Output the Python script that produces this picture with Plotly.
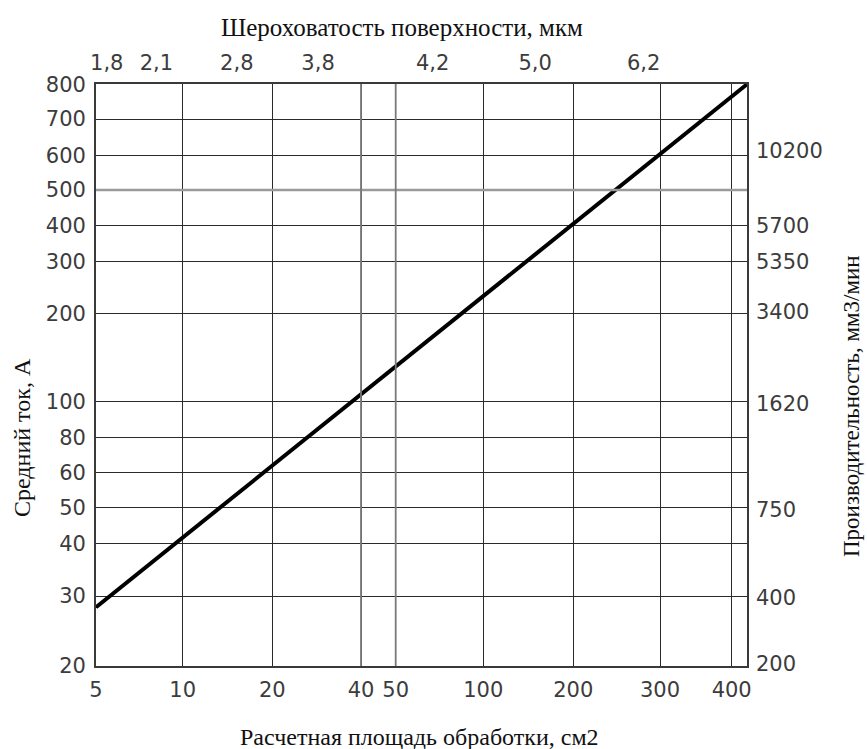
import numpy as np
import plotly.graph_objects as go

# ---- data ----
area_ticks = [5, 10, 20, 40, 50, 100, 200, 300, 400]          # Расчетная площадь, см2
current_ticks = [20, 30, 40, 50, 60, 80, 100, 200, 300, 400, 500, 600, 700, 800]  # Средний ток, А
rough_labels = ["1,8", "2,1", "2,8", "3,8", "4,2", "5,0", "6,2"]  # Шероховатость, мкм
rough_area = [5.45, 8.1, 15.2, 28.6, 67, 149, 278]
prod_labels = ["200", "400", "750", "1620", "3400", "5350", "5700", "10200"]  # мм3/мин
prod_current = [20.2, 29.8, 49.3, 99, 203, 300, 400, 613]
line_area = [5, 420]
line_current = [28.1, 800]

# ---- nomogram scale (nonuniform spacing of the printed axes) ----
x_scale_val = area_ticks + [420]
x_scale_pos = [0, 86.7, 176.3, 265, 299.7, 387.3, 477.3, 564, 635.7, 651]
y_scale_val = current_ticks
y_scale_pos = [0, 69.5, 121.8, 158.2, 193.2, 227.8, 263.8, 352.2, 404.2,
               440.2, 475.5, 510.2, 546.5, 581.2]


def sx(v):
    return np.interp(np.log10(v), np.log10(x_scale_val), x_scale_pos)


def sy(v):
    return np.interp(np.log10(v), np.log10(y_scale_val), y_scale_pos)


TICKFONT = dict(family="DejaVu Sans", size=21, color="#3c3c3c")
TITLEFONT = dict(family="Liberation Serif", size=24, color="#111")

fig = go.Figure()
fig.add_trace(go.Scatter(x=sx(line_area), y=sy(line_current), mode="lines",
                         line=dict(color="black", width=4), hoverinfo="skip",
                         showlegend=False))
fig.add_trace(go.Scatter(x=sx(rough_area), y=[0] * len(rough_area), xaxis="x2",
                         mode="markers", marker=dict(opacity=0), showlegend=False,
                         hoverinfo="skip"))
fig.add_trace(go.Scatter(x=[0] * len(prod_current), y=sy(prod_current), yaxis="y2",
                         mode="markers", marker=dict(opacity=0), showlegend=False,
                         hoverinfo="skip"))

# lighter highlighted grid lines
for v in [500]:
    fig.add_shape(type="line", xref="paper", yref="y", x0=0, x1=1, y0=sy(v), y1=sy(v),
                  line=dict(color="#9a9a9a", width=2.5), layer="above")
for v in [40, 50]:
    fig.add_shape(type="line", xref="x", yref="paper", x0=sx(v), x1=sx(v), y0=0, y1=1,
                  line=dict(color="#7a7a7a", width=1.8), layer="above")

W, H = 867, 749
L, R, T, B = 96, 120, 84, 83
pw, ph = W - L - R, H - T - B


def px(xp):
    return (xp - L) / pw


def py(yp):
    return (H - B - yp) / ph


fig.update_layout(
    width=W, height=H,
    margin=dict(l=L, r=R, t=T, b=B),
    paper_bgcolor="white", plot_bgcolor="white",
    showlegend=False,
    xaxis=dict(range=[0, 651], tickvals=sx(area_ticks), ticktext=[str(v) for v in area_ticks],
               showgrid=True, gridcolor="#2a2a2a", gridwidth=1.3, zeroline=False,
               showline=True, linecolor="#3a3a3a", linewidth=1.8, mirror=True,
               ticks="", tickfont=TICKFONT, ticklabelstandoff=4),
    xaxis2=dict(range=[0, 651], overlaying="x", side="top", tickvals=sx(rough_area),
                ticktext=rough_labels, showgrid=False, zeroline=False, ticks="",
                tickfont=TICKFONT, ticklabelstandoff=9),
    yaxis=dict(range=[-0.5, 581.5], tickvals=sy(current_ticks),
               ticktext=[str(v) for v in current_ticks],
               showgrid=True, gridcolor="#2a2a2a", gridwidth=1.3, zeroline=False,
               showline=True, linecolor="#3a3a3a", linewidth=1.8, mirror=True,
               ticks="", tickfont=TICKFONT, ticklabelstandoff=4),
    yaxis2=dict(range=[-0.5, 581.5], overlaying="y", side="right", tickvals=sy(prod_current),
                ticktext=prod_labels, showgrid=False, zeroline=False, ticks="",
                tickfont=TICKFONT, ticklabelstandoff=8),
    annotations=[
        dict(text="Шероховатость поверхности, мкм", xref="paper", yref="paper",
             x=px(402), y=py(28), showarrow=False,
             font=dict(family="Liberation Serif", size=25, color="#111"),
             xanchor="center", yanchor="middle"),
        dict(text="Расчетная площадь обработки, см2", xref="paper", yref="paper",
             x=px(419), y=py(737), showarrow=False, font=TITLEFONT,
             xanchor="center", yanchor="middle"),
        dict(text="Средний ток, А", xref="paper", yref="paper",
             x=px(22), y=py(438), showarrow=False, font=TITLEFONT, textangle=-90,
             xanchor="center", yanchor="middle"),
        dict(text="Производительность, мм3/мин", xref="paper", yref="paper",
             x=px(851), y=py(406), showarrow=False,
             font=dict(family="Liberation Serif", size=23, color="#111"), textangle=-90,
             xanchor="center", yanchor="middle"),
    ],
)

fig.write_html("out.html")
